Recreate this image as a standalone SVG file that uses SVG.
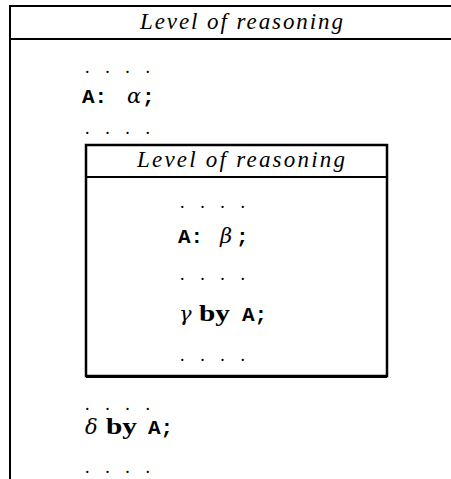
<svg xmlns="http://www.w3.org/2000/svg" width="451" height="479" viewBox="0 0 451 479">
<style>
.ln{stroke:#000;fill:none;stroke-width:2}
.ttl{font-family:"Liberation Serif",serif;font-style:italic;font-size:23px;fill:#000}
.dots{font-family:"Liberation Serif",serif;font-size:18px;fill:#000}
.tt{font-family:"Liberation Mono",monospace;font-size:21px;font-weight:bold;fill:#000}
.gr{font-family:"DejaVu Serif","Liberation Serif",serif;font-style:italic;font-size:21px;fill:#000}
.bf{font-family:"Liberation Serif",serif;font-weight:bold;font-size:23px;fill:#000}
</style>
<g id="outer">
<path class="ln" d="M10,479 V6 H451 M10,39 H451"/>
<text class="ttl" x="140" y="29" textLength="203" lengthAdjust="spacing">Level of reasoning</text>
<text class="dots" x="85" y="73" textLength="65" lengthAdjust="spacing">. . . .</text>
<text x="82" y="103"><tspan class="tt">A:</tspan><tspan class="gr" x="127">α</tspan><tspan class="tt" x="142">;</tspan></text>
<text class="dots" x="85" y="134" textLength="65" lengthAdjust="spacing">. . . .</text>
<text class="dots" x="85" y="410" textLength="65" lengthAdjust="spacing">. . . .</text>
<text x="85" y="434"><tspan class="gr">δ</tspan><tspan class="bf" x="106" textLength="31" lengthAdjust="spacingAndGlyphs">by</tspan><tspan class="tt" x="148">A;</tspan></text>
<text class="dots" x="85" y="473" textLength="65" lengthAdjust="spacing">. . . .</text>
</g>
<g id="inner">
<rect x="86" y="145" width="301" height="231" style="stroke:#000;fill:none;stroke-width:2.5"/>
<line x1="86" y1="177" x2="387" y2="177" class="ln"/>
<line x1="86" y1="376.5" x2="387" y2="376.5" style="stroke:#000;stroke-width:3"/>
<text class="ttl" x="137" y="167" textLength="208" lengthAdjust="spacing">Level of reasoning</text>
<text class="dots" x="180" y="208" textLength="65" lengthAdjust="spacing">. . . .</text>
<text x="178" y="243"><tspan class="tt">A:</tspan><tspan class="gr" x="220">β</tspan><tspan class="tt" x="236">;</tspan></text>
<text class="dots" x="180" y="280" textLength="65" lengthAdjust="spacing">. . . .</text>
<text x="179" y="321"><tspan class="gr">γ</tspan><tspan class="bf" x="199" textLength="31" lengthAdjust="spacingAndGlyphs">by</tspan><tspan class="tt" x="242">A;</tspan></text>
<text class="dots" x="180" y="361" textLength="65" lengthAdjust="spacing">. . . .</text>
</g>
</svg>
